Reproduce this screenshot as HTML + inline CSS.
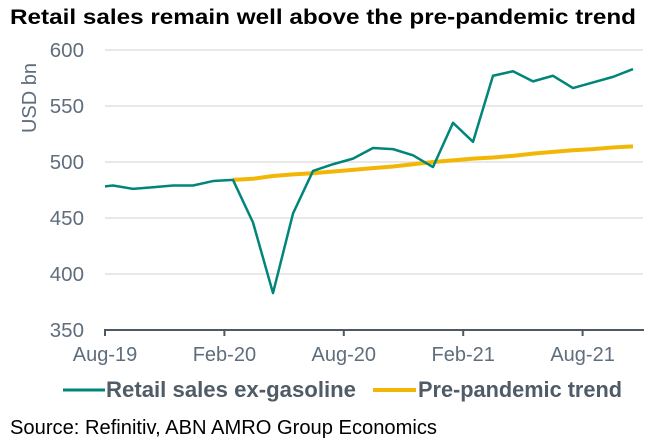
<!DOCTYPE html>
<html><head><meta charset="utf-8"><style>
body{margin:0;background:#fff;width:652px;height:448px;overflow:hidden;font-family:"Liberation Sans",Arial,sans-serif}
svg{display:block}
</style></head><body>
<svg width="652" height="448" viewBox="0 0 652 448">
<text x="10" y="24" font-size="21.5" font-weight="bold" fill="#000" textLength="626" lengthAdjust="spacingAndGlyphs">Retail sales remain well above the pre-pandemic trend</text>
<text transform="translate(36,98) rotate(-90)" text-anchor="middle" font-size="20" fill="#5f6d7c">USD bn</text>
<g id="grid"></g>
<g id="yticks"></g>
<g id="xaxis"></g>
<defs><clipPath id="clip"><rect x="105" y="40" width="540" height="300"/></clipPath></defs>
<g clip-path="url(#clip)">
<polyline id="trend" fill="none" stroke="#f2b705" stroke-width="4" stroke-linejoin="round"/>
<polyline id="sales" fill="none" stroke="#00857a" stroke-width="2.5" stroke-linejoin="round"/>
</g>
<g>
<line x1="63" y1="390" x2="105" y2="390" stroke="#00857a" stroke-width="3"/>
<text x="106" y="397" font-size="22" font-weight="bold" fill="#4f5b66" textLength="250" lengthAdjust="spacingAndGlyphs">Retail sales ex-gasoline</text>
<line x1="373" y1="390" x2="416" y2="390" stroke="#f2b705" stroke-width="4"/>
<text x="418" y="397" font-size="22" font-weight="bold" fill="#4f5b66" textLength="204" lengthAdjust="spacingAndGlyphs">Pre-pandemic trend</text>
</g>
<text x="10" y="434" font-size="20" fill="#000" textLength="427" lengthAdjust="spacingAndGlyphs">Source: Refinitiv, ABN AMRO Group Economics</text>
</svg>
<script>
const yTicks=[350,400,450,500,550,600];
const xTickLabels=["Aug-19","Feb-20","Aug-20","Feb-21","Aug-21"];
const xTickMonths=[0,6,12,18,24];
// month index: -1 = Jul-19 ... 26 = Oct-21
const salesMonths=[-1,0,1,2,3,4,5,6,7,8,9,10,11,12,13,14,15,16,17,18,19,20,21,22,23,24,25,26];
const salesValues=[477,479,476,477.5,479,479,483,484,446,383,454,492,498,503,512.5,511.5,506,495.5,535,518,577,581,572,577,566,571,576,583];
const trendMonths=[6,7,8,9,10,11,12,13,14,15,16,17,18,19,20,21,22,23,24,25,26];
const trendValues=[484,485,487.5,489,490,491.5,493,494.5,496,498,500,501.5,503,504,505.5,507.5,509,510.5,511.5,513,514];
const NS="http://www.w3.org/2000/svg";
function y(v){return 330-(v-350)*280/250;}
function xMonth(m){return 113+20*m;}
function xTick(m){return 105+m*19.9;}
const grid=document.getElementById('grid'),yt=document.getElementById('yticks'),xa=document.getElementById('xaxis');
yTicks.forEach(v=>{
 if(v>350){const l=document.createElementNS(NS,'line');
 l.setAttribute('x1',105);l.setAttribute('x2',643);l.setAttribute('y1',y(v));l.setAttribute('y2',y(v));
 l.setAttribute('stroke','#d9d9d9');l.setAttribute('stroke-width','1.2');
 
 
 grid.appendChild(l);}
 const t=document.createElementNS(NS,'text');
 t.setAttribute('x',84);t.setAttribute('y',y(v)+7);t.setAttribute('text-anchor','end');
 t.setAttribute('font-size','20.5');t.setAttribute('fill','#5f6d7c');t.textContent=v;
 
 
 yt.appendChild(t);
});
const ax=document.createElementNS(NS,'line');
ax.setAttribute('x1',104);ax.setAttribute('x2',644);ax.setAttribute('y1',330);ax.setAttribute('y2',330);
ax.setAttribute('stroke','#4d5a66');ax.setAttribute('stroke-width','2');


xa.appendChild(ax);
xTickMonths.forEach((m,i)=>{
 const tk=document.createElementNS(NS,'line');
 tk.setAttribute('x1',xTick(m));tk.setAttribute('x2',xTick(m));tk.setAttribute('y1',330);tk.setAttribute('y2',336);
 tk.setAttribute('stroke','#4d5a66');tk.setAttribute('stroke-width','2');
 
 
 xa.appendChild(tk);
 const t=document.createElementNS(NS,'text');
 t.setAttribute('x',xTick(m));t.setAttribute('y',361);t.setAttribute('text-anchor','middle');
 t.setAttribute('font-size','20');t.setAttribute('fill','#5f6d7c');t.textContent=xTickLabels[i];
 
 
 xa.appendChild(t);
});
document.getElementById('sales').setAttribute('points',salesMonths.map((m,i)=>xMonth(m)+','+y(salesValues[i])).join(' '));
document.getElementById('trend').setAttribute('points',trendMonths.map((m,i)=>xMonth(m)+','+y(trendValues[i])).join(' '));
</script>
</body></html>
